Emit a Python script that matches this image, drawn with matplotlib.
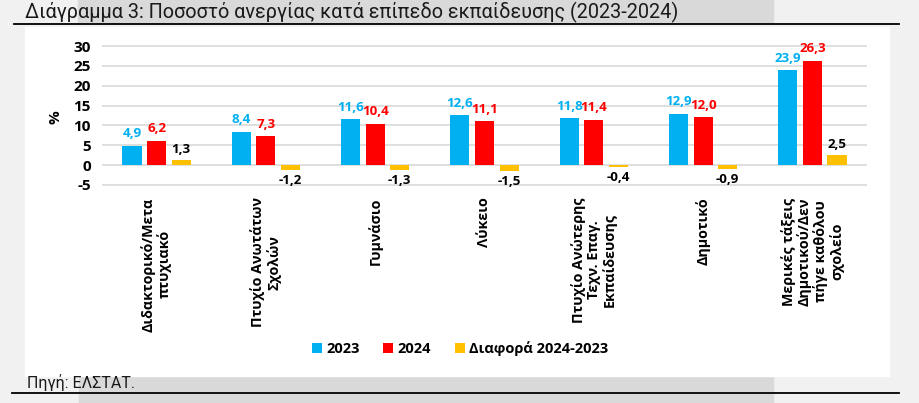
import numpy as np
import matplotlib.pyplot as plt
from matplotlib.patches import Rectangle

# data
categories = [
    "Διδακτορικό/Μετα\nπτυχιακό",
    "Πτυχίο Ανωτάτων\nΣχολών",
    "Γυμνάσιο",
    "Λύκειο",
    "Πτυχίο Ανώτερης\nΤεχν. Επαγ.\nΕκπαίδευσης",
    "Δημοτικό",
    "Μερικές τάξεις\nΔημοτικού/Δεν\nπήγε καθόλου\nσχολείο",
]
values_2023 = [4.9, 8.4, 11.6, 12.6, 11.8, 12.9, 23.9]
values_2024 = [6.2, 7.3, 10.4, 11.1, 11.4, 12.0, 26.3]
values_diff = [1.3, -1.2, -1.3, -1.5, -0.4, -0.9, 2.5]
series_names = ["2023", "2024", "Διαφορά 2024-2023"]
y_ticks = [-5, 0, 5, 10, 15, 20, 25, 30]

c_blue = "#00b0f0"
c_red = "#ff0000"
c_yellow = "#ffc000"

plt.rcParams["font.family"] = ["Open Sans", "DejaVu Sans"]

W, H = 919, 403
fig = plt.figure(figsize=(W / 100, H / 100), dpi=100)
fig.patch.set_facecolor("#f1f1f1")


def fx(px):
    return px / W


def fy(py):
    return 1 - py / H


# background bands / panel
fig.patches.append(Rectangle((fx(78), fy(23)), fx(773 - 78), 23 / H,
                             transform=fig.transFigure, color="#d9d9d9", zorder=-10))
fig.patches.append(Rectangle((fx(79), 0), fx(773 - 79), (H - 376) / H,
                             transform=fig.transFigure, color="#d9d9d9", zorder=-10))
fig.patches.append(Rectangle((fx(25), fy(376)), fx(889 - 25), (376 - 27) / H,
                             transform=fig.transFigure, color="white", zorder=-9))
fig.add_artist(plt.Line2D([fx(14), fx(899)], [fy(24), fy(24)], color="black", lw=1.3,
                          transform=fig.transFigure))
fig.add_artist(plt.Line2D([fx(12), fx(899)], [fy(393), fy(393)], color="black", lw=1.3,
                          transform=fig.transFigure))

fig.text(fx(25), fy(12), "Διάγραμμα 3: Ποσοστό ανεργίας κατά επίπεδο εκπαίδευσης (2023-2024)",
         fontsize=14.3, family=["Roboto"], va="center", ha="left", color="#1a1a1a")
fig.text(fx(27), fy(383), "Πηγή: ΕΛΣΤΑΤ.", fontsize=11.5,
         family=["Roboto"], va="center", ha="left", color="#1a1a1a")

# axes: y 30 at px 46, -5 at px 185
ppu = (185 - 46) / 35
ylo, yhi = -5.3, 30.3
top_px = 46 - 0.3 * ppu
bot_px = 185 + 0.3 * ppu
ax = fig.add_axes([fx(102), fy(bot_px), fx(867 - 102), (bot_px - top_px) / H])
ax.set_facecolor("none")

x = np.arange(len(categories))
bw = 0.175
off = 0.225
b1 = ax.bar(x - off, values_2023, bw, color=c_blue, label=series_names[0], zorder=3)
b2 = ax.bar(x, values_2024, bw, color=c_red, label=series_names[1], zorder=3)
b3 = ax.bar(x + off, values_diff, bw, color=c_yellow, label=series_names[2], zorder=3)


def fmt(v):
    return f"{v:.1f}".replace(".", ",")


lbl = 9.6
for xi, v in zip(x, values_2023):
    ax.annotate(fmt(v), (xi - off, v), xytext=(0, 4), textcoords="offset points",
                ha="center", va="bottom", color=c_blue, fontsize=lbl, fontweight="bold")
for xi, v in zip(x, values_2024):
    ax.annotate(fmt(v), (xi, v), xytext=(0, 4), textcoords="offset points",
                ha="center", va="bottom", color=c_red, fontsize=lbl, fontweight="bold")
for xi, v in zip(x, values_diff):
    if v >= 0:
        ax.annotate(fmt(v), (xi + off, v), xytext=(0, 3), textcoords="offset points",
                    ha="center", va="bottom", color="black", fontsize=lbl, fontweight="bold")
    else:
        ax.annotate(fmt(v), (xi + off, v), xytext=(0, -3), textcoords="offset points",
                    ha="center", va="top", color="black", fontsize=lbl, fontweight="bold")

ax.set_xlim(-0.5, len(categories) - 0.5)
ax.set_ylim(ylo, yhi)
ax.set_yticks(y_ticks)
ax.set_yticklabels([str(t) for t in y_ticks], fontsize=11, fontweight="bold")
ax.set_xticks(x)
ax.set_xticklabels(categories, rotation=90, fontsize=10.3, fontweight="bold",
                   multialignment="center", va="top", ha="center", linespacing=1.1)
ax.tick_params(axis="both", length=0)
ax.tick_params(axis="x", pad=8)
ax.tick_params(axis="y", pad=8)
for s in ax.spines.values():
    s.set_visible(False)
ax.yaxis.grid(True, color="#d9d9d9", lw=1.2, zorder=0)
ax.set_axisbelow(True)
ax.set_ylabel("%", fontsize=11, fontweight="bold")
ax.yaxis.set_label_coords((63 - 102) / 765, (bot_px - 117) / (bot_px - top_px))

fig.legend(handles=[b1, b2, b3], labels=series_names, loc="center", ncol=3,
           bbox_to_anchor=(fx(460), fy(349)), frameon=False,
           prop={"weight": "bold", "size": 10.5}, handlelength=0.7, handleheight=0.7,
           handletextpad=0.3, columnspacing=1.6)

fig.savefig("out.png", dpi=100, facecolor=fig.get_facecolor())
